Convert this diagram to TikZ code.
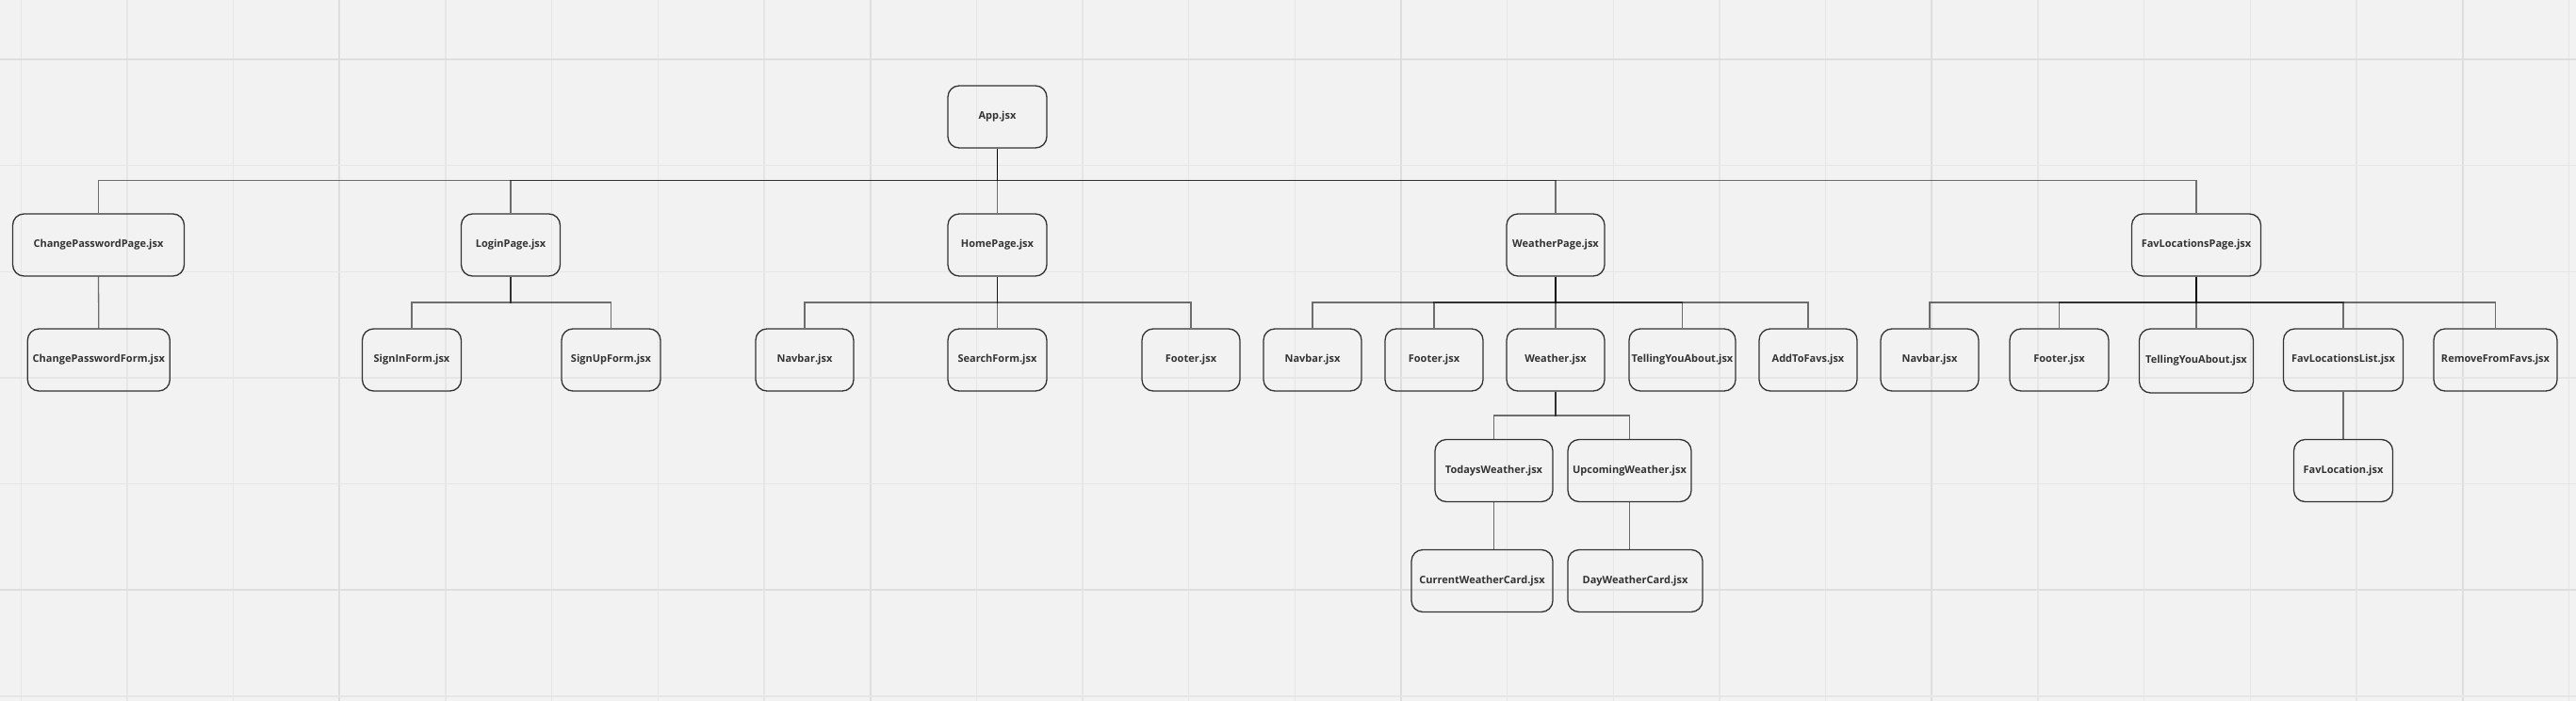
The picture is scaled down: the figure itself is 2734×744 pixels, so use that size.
\documentclass[tikz,border=0pt]{standalone}
\usepackage{fontspec}
\setmainfont{Open Sans}
\definecolor{paper}{HTML}{F2F2F2}
\definecolor{gridminor}{HTML}{E6E6E6}
\definecolor{gridmajor}{HTML}{DEDEDE}
\definecolor{ink}{HTML}{333333}
\tikzset{
  comp/.style={draw=ink, line width=1.3pt, rounded corners=12pt, inner sep=0pt,
    minimum height=66pt, text=ink, font=\fontsize{11}{13}\selectfont\bfseries},
  wire/.style={draw=black, draw opacity=0.55, line width=1.3pt},
}
\begin{document}
\begin{tikzpicture}[x=1pt, y=-1pt]
\useasboundingbox (0,0) rectangle (2734,744);
\fill[paper] (0,0) rectangle (2734,744);
\foreach \k in {0,...,24} {
  \pgfmathsetmacro\gx{22.3+\k*112.67}
  \pgfmathtruncatemacro\m{mod(\k,5)}
  \ifnum\m=3
    \draw[gridmajor, line width=2pt] (\gx,0) -- (\gx,744);
  \else
    \draw[gridminor, line width=1.4pt] (\gx,0) -- (\gx,744);
  \fi
}
\foreach \k in {0,...,6} {
  \pgfmathsetmacro\gy{63+\k*112.67}
  \pgfmathtruncatemacro\m{mod(\k,5)}
  \ifnum\m=0
    \draw[gridmajor, line width=2pt] (0,\gy) -- (2734,\gy);
  \else
    \draw[gridminor, line width=1.4pt] (0,\gy) -- (2734,\gy);
  \fi
}
% bus levels
\coordinate (bus_1) at (0,191.7);
\coordinate (bus_2) at (0,321);
\coordinate (bus_3) at (0,441);
% root
\node[comp, minimum width=105pt] (app) at (1058.5,124) {App.jsx};
% pages
\node[comp, minimum width=182pt] (chg_page) at (104.5,260) {ChangePasswordPage.jsx};
\draw[wire] (app.south) -- (app.south |- bus_1) -| (chg_page.north);
\node[comp, minimum width=105pt] (login_page) at (542,260) {LoginPage.jsx};
\draw[wire] (app.south) -- (app.south |- bus_1) -| (login_page.north);
\node[comp, minimum width=105pt] (home_page) at (1058.5,260) {HomePage.jsx};
\draw[wire] (app.south) -- (home_page.north);
\node[comp, minimum width=104pt] (weather_page) at (1651,260) {WeatherPage.jsx};
\draw[wire] (app.south) -- (app.south |- bus_1) -| (weather_page.north);
\node[comp, minimum width=137pt] (fav_page) at (2331,260) {FavLocationsPage.jsx};
\draw[wire] (app.south) -- (app.south |- bus_1) -| (fav_page.north);
% change password
\node[comp, minimum width=151pt] (chg_form) at (104.8,382) {ChangePasswordForm.jsx};
\draw[wire] (chg_page.south) -- (chg_form.north);
% login
\node[comp, minimum width=105pt] (signin_form) at (437,382) {SignInForm.jsx};
\draw[wire] (login_page.south) -- (login_page.south |- bus_2) -| (signin_form.north);
\node[comp, minimum width=105pt] (signup_form) at (648.5,382) {SignUpForm.jsx};
\draw[wire] (login_page.south) -- (login_page.south |- bus_2) -| (signup_form.north);
% home
\node[comp, minimum width=104pt] (home_nav) at (854,382) {Navbar.jsx};
\draw[wire] (home_page.south) -- (home_page.south |- bus_2) -| (home_nav.north);
\node[comp, minimum width=105pt] (search_form) at (1058.5,382) {SearchForm.jsx};
\draw[wire] (home_page.south) -- (search_form.north);
\node[comp, minimum width=104pt] (home_foot) at (1264,382) {Footer.jsx};
\draw[wire] (home_page.south) -- (home_page.south |- bus_2) -| (home_foot.north);
% weather
\node[comp, minimum width=104pt] (weather_nav) at (1393,382) {Navbar.jsx};
\draw[wire] (weather_page.south) -- (weather_page.south |- bus_2) -| (weather_nav.north);
\node[comp, minimum width=104pt] (weather_foot) at (1522,382) {Footer.jsx};
\draw[wire] (weather_page.south) -- (weather_page.south |- bus_2) -| (weather_foot.north);
\node[comp, minimum width=104pt] (weather) at (1651,382) {Weather.jsx};
\draw[wire] (weather_page.south) -- (weather.north);
\node[comp, minimum width=113pt] (weather_tell) at (1785.5,382) {TellingYouAbout.jsx};
\draw[wire] (weather_page.south) -- (weather_page.south |- bus_2) -| (weather_tell.north);
\node[comp, minimum width=104pt] (add_favs) at (1919,382) {AddToFavs.jsx};
\draw[wire] (weather_page.south) -- (weather_page.south |- bus_2) -| (add_favs.north);
\node[comp, minimum width=125pt] (todays) at (1585.5,499.5) {TodaysWeather.jsx};
\draw[wire] (weather.south) -- (weather.south |- bus_3) -| (todays.north);
\node[comp, minimum width=131pt] (upcoming) at (1729.5,499.5) {UpcomingWeather.jsx};
\draw[wire] (weather.south) -- (weather.south |- bus_3) -| (upcoming.north);
\node[comp, minimum width=150pt] (current_card) at (1573,616.5) {CurrentWeatherCard.jsx};
\draw[wire] (todays.south) -- (todays.south |- current_card.north);
\node[comp, minimum width=143pt] (day_card) at (1735.5,616.5) {DayWeatherCard.jsx};
\draw[wire] (upcoming.south) -- (upcoming.south |- day_card.north);
% favourites
\node[comp, minimum width=104pt] (fav_nav) at (2048,382) {Navbar.jsx};
\draw[wire] (fav_page.south) -- (fav_page.south |- bus_2) -| (fav_nav.north);
\node[comp, minimum width=105pt] (fav_foot) at (2185.5,382) {Footer.jsx};
\draw[wire] (fav_page.south) -- (fav_page.south |- bus_2) -| (fav_foot.north);
\node[comp, minimum width=121pt, minimum height=68pt] (fav_tell) at (2331,383) {TellingYouAbout.jsx};
\draw[wire] (fav_page.south) -- (fav_tell.north);
\node[comp, minimum width=127pt] (fav_list) at (2487,382) {FavLocationsList.jsx};
\draw[wire] (fav_page.south) -- (fav_page.south |- bus_2) -| (fav_list.north);
\node[comp, minimum width=131pt] (remove_favs) at (2648.5,382) {RemoveFromFavs.jsx};
\draw[wire] (fav_page.south) -- (fav_page.south |- bus_2) -| (remove_favs.north);
\node[comp, minimum width=105pt] (fav_loc) at (2487,499.5) {FavLocation.jsx};
\draw[wire] (fav_list.south) -- (fav_loc.north);
\end{tikzpicture}
\end{document}
